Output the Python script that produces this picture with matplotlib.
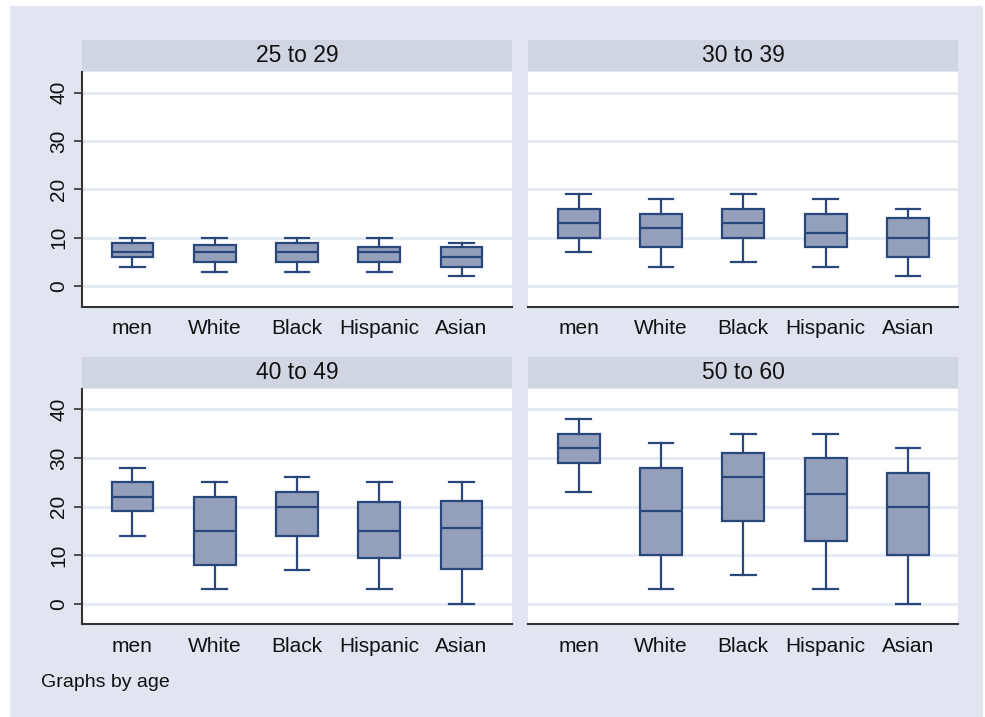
import matplotlib

matplotlib.use("Agg")
import matplotlib.pyplot as plt
from matplotlib.patches import Rectangle

# Box plot summaries per age group (rows) and category (columns)
age_groups = ["25 to 29", "30 to 39", "40 to 49", "50 to 60"]
categories = ["men", "White", "Black", "Hispanic", "Asian"]

whisker_low = [
    [4, 3, 3, 3, 2],
    [7, 4, 5, 4, 2],
    [14, 3, 7, 3, 0],
    [23, 3, 6, 3, 0],
]
quart_low = [
    [6, 5, 5, 5, 4],
    [10, 8, 10, 8, 6],
    [19, 8, 14, 9.3, 7.1],
    [29, 10, 17, 12.8, 10],
]
medians = [
    [7, 7, 7, 7, 6],
    [13, 12, 13, 11, 10],
    [22, 15, 20, 15, 15.6],
    [32, 19, 26, 22.5, 20],
]
quart_high = [
    [9, 8.5, 9, 8, 8],
    [16, 15, 16, 15, 14],
    [25, 22, 23, 21, 21.2],
    [35, 28, 31, 30, 27],
]
whisker_high = [
    [10, 10, 10, 10, 9],
    [19, 18, 19, 18, 16],
    [28, 25, 26, 25, 25],
    [38, 33, 35, 35, 32],
]
y_ticks = [0, 10, 20, 30, 40]

BG = "#e1e5f0"
STRIP = "#d0d5e2"
GRID = "#e4e9f2"
BOX_FILL = "#949fbb"
BOX_EDGE = "#2a477c"
TEXT = "#111111"
FONT = "Liberation Sans"
FS = 15

plt.rcParams["font.family"] = FONT

W, H = 985, 717
fig = plt.figure(figsize=(W / 100, H / 100), dpi=100, facecolor="white")

# graph region background, kept behind every axes
fig.patches.append(
    Rectangle((10 / W, 0), 973 / W, (H - 6) / H, transform=fig.transFigure,
              facecolor=BG, edgecolor="none", zorder=-10)
)

# pixel boxes: (left, top, right, bottom) for each plot region
panels = [
    (82.3, 72.3, 511.7, 306.7),
    (528.3, 72.3, 958.3, 306.7),
    (82.3, 389.0, 511.7, 624.3),
    (528.3, 389.0, 958.3, 624.3),
]

box_style = dict(
    patch_artist=True,
    widths=0.51,
    capwidths=0.30,
    showfliers=False,
    boxprops=dict(facecolor=BOX_FILL, edgecolor=BOX_EDGE, linewidth=1.6),
    medianprops=dict(color=BOX_EDGE, linewidth=1.6),
    whiskerprops=dict(color=BOX_EDGE, linewidth=1.6),
    capprops=dict(color=BOX_EDGE, linewidth=1.6),
)

for p, (left, top, right, bottom) in enumerate(panels):
    ax = fig.add_axes([left / W, (H - bottom) / H, (right - left) / W, (bottom - top) / H])
    ax.set_facecolor("white")

    stats = []
    for c, name in enumerate(categories):
        stats.append({
            "label": name,
            "whislo": whisker_low[p][c],
            "q1": quart_low[p][c],
            "med": medians[p][c],
            "q3": quart_high[p][c],
            "whishi": whisker_high[p][c],
        })
    ax.bxp(stats, positions=range(1, len(categories) + 1), **box_style)

    ax.set_xlim(0.39, 5.61)
    ax.set_ylim(-4.25, 44.2)
    ax.set_yticks(y_ticks)
    for yv in y_ticks:
        ax.axhline(yv, color=GRID, linewidth=2.0, zorder=0)

    for side in ("top", "right"):
        ax.spines[side].set_visible(False)
    ax.spines["bottom"].set_color("#333333")
    ax.spines["bottom"].set_linewidth(1.5)
    ax.tick_params(axis="x", length=0, pad=9, labelsize=FS, labelcolor=TEXT)

    if p % 2 == 0:
        ax.spines["left"].set_color("#333333")
        ax.spines["left"].set_linewidth(1.5)
        ax.tick_params(axis="y", length=6, width=1.2, color="#333333",
                       pad=4, labelsize=FS, labelcolor=TEXT)
        for lab in ax.get_yticklabels():
            lab.set_rotation(90)
            lab.set_va("center")
    else:
        ax.spines["left"].set_visible(False)
        ax.tick_params(axis="y", length=0, labelleft=False)

    # strip with the age group title
    strip = fig.add_axes([left / W, (H - top + 1) / H, (right - left) / W, 31.5 / H])
    strip.set_facecolor(STRIP)
    strip.set_xticks([])
    strip.set_yticks([])
    for s in strip.spines.values():
        s.set_visible(False)
    strip.text(0.5, 0.5, age_groups[p], ha="center", va="center",
               fontsize=16.5, color=TEXT, transform=strip.transAxes)

fig.text(41 / W, (H - 687) / H, "Graphs by age", ha="left", va="baseline",
         fontsize=14, color=TEXT)

fig.savefig("out.png", dpi=100, facecolor="white")
